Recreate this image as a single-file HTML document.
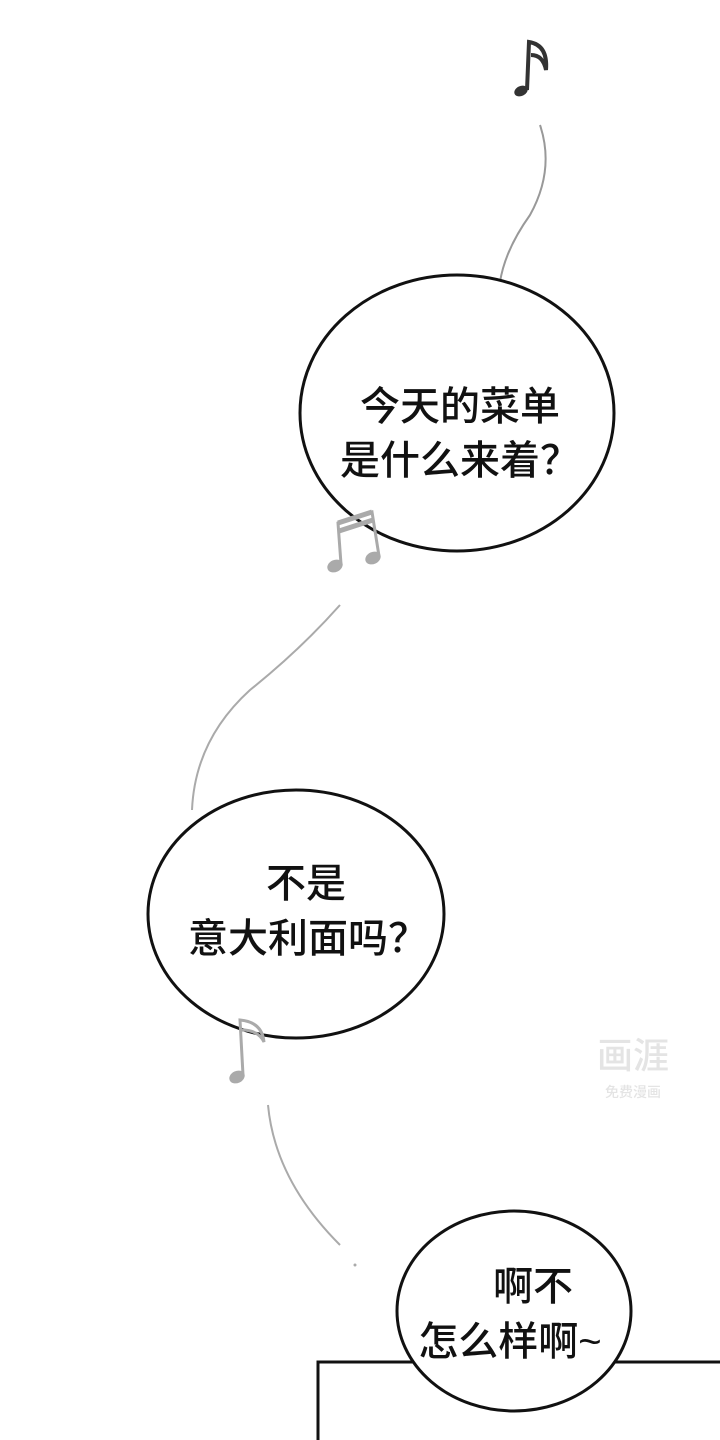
<!DOCTYPE html>
<html><head><meta charset="utf-8"><style>
html,body{margin:0;padding:0;background:#fff;}
svg{display:block;}
text{font-family:"Liberation Sans","Noto Sans CJK SC",sans-serif;font-weight:500;fill:#111;}
</style></head><body>
<svg width="720" height="1440" viewBox="0 0 720 1440" xmlns="http://www.w3.org/2000/svg">
<rect width="720" height="1440" fill="#fff"/>
<ellipse cx="521" cy="91" rx="7" ry="5" fill="#333" transform="rotate(-25 521 91)"/>
<path d="M527 90 L529 42 Q548 45 546 70 Q543 55 531 55" stroke="#333" stroke-width="4" fill="none"/>
<path d="M540 125 Q555 170 530 215 Q505 250 500 282" stroke="#999" stroke-width="2" fill="none"/>
<ellipse cx="457" cy="413" rx="157" ry="138" fill="#fff" stroke="#111" stroke-width="3"/>
<text x="460" y="420" font-size="40" text-anchor="middle">今天的菜单</text>
<text x="460" y="474" font-size="40" text-anchor="middle">是什么来着？</text>
<g fill="#aaa" stroke="#aaa">
<ellipse cx="335" cy="566" rx="8" ry="6" transform="rotate(-25 335 566)" stroke="none"/>
<ellipse cx="373" cy="558" rx="8" ry="6" transform="rotate(-25 373 558)" stroke="none"/>
<path d="M341 564 L338 523 L372 512 L379 556" stroke-width="3" fill="none"/>
<path d="M338 523 L372 512 M339 531 L373 520" stroke-width="5" fill="none"/>
</g>
<path d="M340 605 Q300 650 250 690 Q195 740 192 810" stroke="#aaa" stroke-width="2" fill="none"/>
<ellipse cx="296" cy="914" rx="148" ry="124" fill="#fff" stroke="#111" stroke-width="3"/>
<text x="306" y="897" font-size="40" text-anchor="middle">不是</text>
<text x="308" y="952" font-size="40" text-anchor="middle">意大利面吗？</text>
<ellipse cx="237" cy="1077" rx="8" ry="6" fill="#aaa" transform="rotate(-25 237 1077)"/>
<path d="M243 1075 L240 1020 Q262 1022 264 1042 Q258 1030 242 1030" stroke="#aaa" stroke-width="3" fill="none"/>
<path d="M268 1105 Q275 1180 340 1245" stroke="#aaa" stroke-width="2" fill="none"/>
<circle cx="355" cy="1265" r="1.5" fill="#aaa"/>
<text x="633" y="1068" font-size="36" text-anchor="middle" style="fill:#e4e4e4">画涯</text>
<text x="633" y="1097" font-size="14" text-anchor="middle" style="fill:#e4e4e4">免费漫画</text>
<path d="M318 1440 L318 1362 L720 1362" stroke="#111" stroke-width="3" fill="none"/>
<ellipse cx="514" cy="1311" rx="117" ry="100" fill="#fff" stroke="#111" stroke-width="3"/>
<text x="533" y="1300" font-size="40" text-anchor="middle">啊不</text>
<text x="510" y="1355" font-size="40" text-anchor="middle">怎么样啊~</text>
</svg>
</body></html>
